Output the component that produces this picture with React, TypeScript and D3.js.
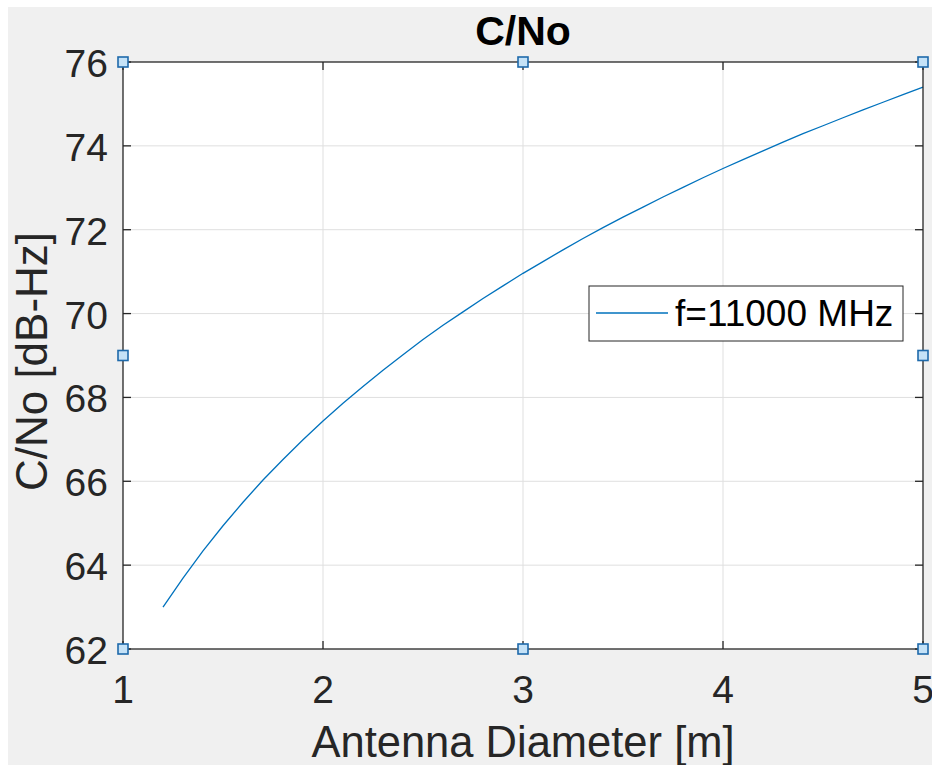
import React from "react";
import * as d3 from "d3";

// Antenna diameter [m] and the resulting C/No [dB-Hz] at 11 GHz
const diameters = [
  1.2, 1.3, 1.4, 1.5, 1.6, 1.7, 1.8, 1.9, 2.0, 2.1, 2.2, 2.3, 2.4, 2.5, 2.6, 2.7,
  2.8, 2.9, 3.0, 3.1, 3.2, 3.3, 3.4, 3.5, 3.6, 3.7, 3.8, 3.9, 4.0, 4.1, 4.2, 4.3,
  4.4, 4.5, 4.6, 4.7, 4.8, 4.9, 5.0,
];
const cnoValues = [
  63.0, 63.69, 64.34, 64.94, 65.5, 66.03, 66.52, 66.99, 67.44, 67.86, 68.26,
  68.65, 69.02, 69.38, 69.72, 70.04, 70.36, 70.66, 70.96, 71.24, 71.52, 71.79,
  72.05, 72.3, 72.54, 72.78, 73.01, 73.24, 73.46, 73.67, 73.88, 74.09, 74.29,
  74.48, 74.67, 74.86, 75.04, 75.22, 75.4,
];
const xTicks = [1, 2, 3, 4, 5];
const yTicks = [62, 64, 66, 68, 70, 72, 74, 76];
const seriesLabel = "f=11000 MHz";
const titleText = "C/No";
const xLabelText = "Antenna Diameter [m]";
const yLabelText = "C/No [dB-Hz]";

const W = 932;
const H = 765;
const left = 123;
const right = 923;
const top = 62;
const bottom = 649;

const FONT = "'Liberation Sans', Arial, Helvetica, sans-serif";
const AXIS_COLOR = "#262626";
const LINE_COLOR = "#0072BD";

export default function App() {
  const x = d3.scaleLinear().domain([1, 5]).range([left, right]);
  const y = d3.scaleLinear().domain([62, 76]).range([bottom, top]);

  const pts = diameters.map((d, i) => [d, cnoValues[i]] as [number, number]);
  const line = d3
    .line<[number, number]>()
    .x((p) => x(p[0]))
    .y((p) => y(p[1]));

  const tickLen = 8;
  const midX = (left + right) / 2;
  const midY = (top + bottom) / 2;

  const handles: [number, number][] = [
    [left, top],
    [midX, top],
    [right, top],
    [left, midY],
    [right, midY],
    [left, bottom],
    [midX, bottom],
    [right, bottom],
  ];

  // legend box
  const lgX = 589;
  const lgY = 286;
  const lgW = 314;
  const lgH = 55;

  return (
    <svg
      width={W}
      height={H}
      style={{ position: "absolute", left: 0, top: 0, display: "block" }}
      fontFamily={FONT}
    >
      <rect x={0} y={0} width={W} height={H} fill="#ffffff" />
      <rect x={8} y={7} width={W - 8} height={H - 7} fill="#f0f0f0" />
      <rect x={left} y={top} width={right - left} height={bottom - top} fill="#ffffff" />

      {/* grid */}
      <g stroke="#dfdfdf" strokeWidth={1}>
        {xTicks.slice(1, -1).map((t) => (
          <line key={"gx" + t} x1={x(t)} x2={x(t)} y1={top} y2={bottom} />
        ))}
        {yTicks.slice(1, -1).map((t) => (
          <line key={"gy" + t} x1={left} x2={right} y1={y(t)} y2={y(t)} />
        ))}
      </g>

      {/* data */}
      <path d={line(pts) || ""} fill="none" stroke={LINE_COLOR} strokeWidth={1.3} />

      {/* axes box and ticks */}
      <g stroke={AXIS_COLOR} strokeWidth={1.3} fill="none">
        <rect x={left} y={top} width={right - left} height={bottom - top} />
        {xTicks.map((t) => (
          <g key={"tx" + t}>
            <line x1={x(t)} x2={x(t)} y1={bottom} y2={bottom - tickLen} />
            <line x1={x(t)} x2={x(t)} y1={top} y2={top + tickLen} />
          </g>
        ))}
        {yTicks.map((t) => (
          <g key={"ty" + t}>
            <line x1={left} x2={left + tickLen} y1={y(t)} y2={y(t)} />
            <line x1={right} x2={right - tickLen} y1={y(t)} y2={y(t)} />
          </g>
        ))}
      </g>

      {/* tick labels */}
      <g fill="#262626" fontSize={39}>
        {xTicks.map((t) => (
          <text key={"lx" + t} x={x(t)} y={703} textAnchor="middle">
            {t}
          </text>
        ))}
        {yTicks.map((t) => (
          <text key={"ly" + t} x={108} y={y(t) + 15} textAnchor="end">
            {t}
          </text>
        ))}
      </g>

      {/* legend */}
      <rect x={lgX} y={lgY} width={lgW} height={lgH} fill="#ffffff" stroke={AXIS_COLOR} strokeWidth={1} />
      <line x1={596} x2={668} y1={313} y2={313} stroke={LINE_COLOR} strokeWidth={1.3} />
      <text x={675} y={326} fontSize={37} fill="#000000">
        {seriesLabel}
      </text>

      {/* selection handles */}
      {handles.map(([hx, hy], i) => (
        <rect
          key={"h" + i}
          x={hx - 5}
          y={hy - 5}
          width={10}
          height={10}
          fill="#c5e2f7"
          stroke="#1e6aab"
          strokeWidth={1.6}
        />
      ))}

      {/* title and axis labels */}
      <text x={midX} y={45} textAnchor="middle" fontSize={41} fontWeight="bold" fill="#000000">
        {titleText}
      </text>
      <text x={midX} y={757} textAnchor="middle" fontSize={43.5} fill="#262626">
        {xLabelText}
      </text>
      <text
        transform={`translate(47, ${midY + 6}) rotate(-90)`}
        textAnchor="middle"
        fontSize={44}
        fill="#262626"
      >
        {yLabelText}
      </text>
    </svg>
  );
}
